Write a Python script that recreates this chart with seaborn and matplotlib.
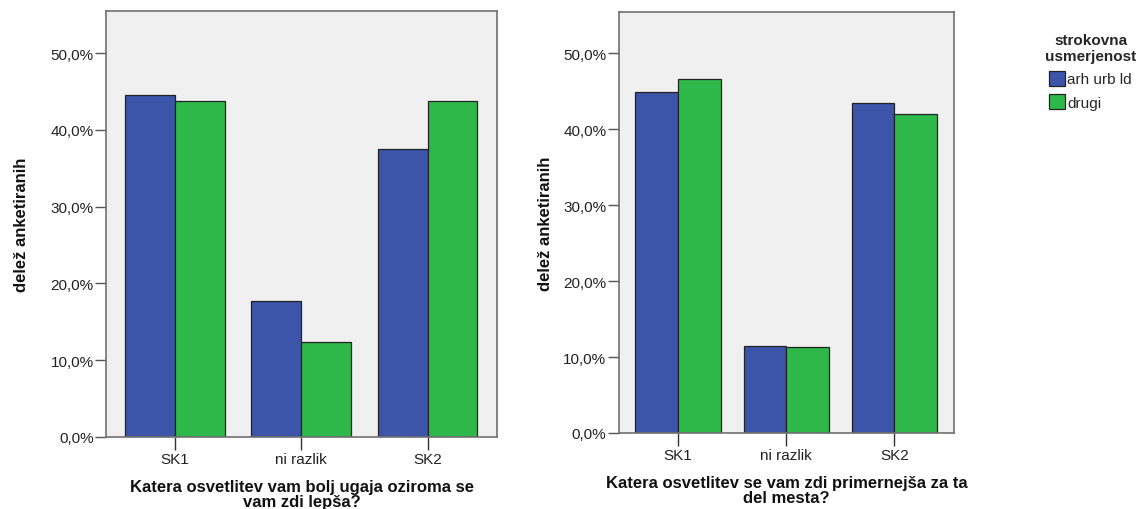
import matplotlib
matplotlib.use("Agg")
import matplotlib.pyplot as plt
import seaborn as sns
import pandas as pd
from matplotlib.ticker import FuncFormatter

categories = ["SK1", "ni razlik", "SK2"]
groups = ["arh urb ld", "drugi"]
left_arh = [44.6, 17.75, 37.5]
left_drugi = [43.8, 12.4, 43.8]
right_arh = [44.9, 11.4, 43.5]
right_drugi = [46.6, 11.3, 42.0]
yticks = [0, 10, 20, 30, 40, 50]
left_xlabel = "Katera osvetlitev vam bolj ugaja oziroma se\nvam zdi lepša?"
right_xlabel = "Katera osvetlitev se vam zdi primernejša za ta\ndel mesta?"
ylabel = "delež anketiranih"
legend_title = "strokovna\nusmerjenost"

colors = {"arh urb ld": "#3D55A9", "drugi": "#2EB84A"}

sns.set_theme(style="white")
plt.rcParams['font.family'] = ['Liberation Sans', 'DejaVu Sans']

def make_df(a, d):
    rows = []
    for c, v in zip(categories, a):
        rows.append({"cat": c, "grp": groups[0], "val": v})
    for c, v in zip(categories, d):
        rows.append({"cat": c, "grp": groups[1], "val": v})
    return pd.DataFrame(rows)

fig = plt.figure(figsize=(11.38, 5.10), dpi=100)
ax1 = fig.add_axes([106/1138, 1-438/510, 391/1138, 426/510])
ax2 = fig.add_axes([619/1138, 1-434/510, 335/1138, 421.3/510])

fmt = FuncFormatter(lambda v, p: f"{v:.1f}%".replace(".", ","))

for ax, a, d, xl, lx in [(ax1, left_arh, left_drugi, left_xlabel, -0.216),
                         (ax2, right_arh, right_drugi, right_xlabel, -0.218)]:
    df = make_df(a, d)
    sns.barplot(data=df, x="cat", y="val", hue="grp", order=categories,
                hue_order=groups, palette=colors, width=0.79, gap=0,
                edgecolor="#222222", linewidth=0.9, saturation=1, ax=ax,
                legend=(ax is ax2))
    ax.set_facecolor("#F0F0F0")
    ax.set_ylim(0, 55.5)
    ax.set_xlim(-0.546, 2.55)
    ax.set_yticks(yticks)
    ax.yaxis.set_major_formatter(fmt)
    for s in ax.spines.values():
        s.set_color("#707070")
        s.set_linewidth(1.2)
        s.set_visible(True)
    ax.tick_params(axis="y", direction="out", length=8, width=1, color="#555555",
                   labelsize=11, labelcolor="#222222", left=True, pad=1)
    ax.tick_params(axis="x", direction="out", length=9, width=1, color="#333333",
                   labelsize=11, labelcolor="#222222", bottom=True, pad=2)
    ax.set_xlabel(xl, fontsize=12, fontweight="bold", linespacing=0.98, labelpad=9, color="#111111")
    ax.set_ylabel(ylabel, fontsize=12, fontweight="bold", color="#111111")
    ax.yaxis.label.set_va("center")
    ax.yaxis.set_label_coords(lx, 0.5)

leg = ax2.get_legend()
handles = leg.legend_handles
leg.remove()
fig.legend(handles, groups, title=legend_title, loc="upper left",
           bbox_to_anchor=(1045/1138, 1-34/510), frameon=False,
           fontsize=11, title_fontproperties={"weight": "bold", "size": 11},
           handlelength=1.05, handleheight=1.1, handletextpad=0.15,
           labelspacing=0.5, borderaxespad=0, borderpad=0)
for h in handles:
    h.set_edgecolor("#333333")
fig.legends[0].get_title().set_multialignment("center")

fig.savefig("out.png", dpi=100)
